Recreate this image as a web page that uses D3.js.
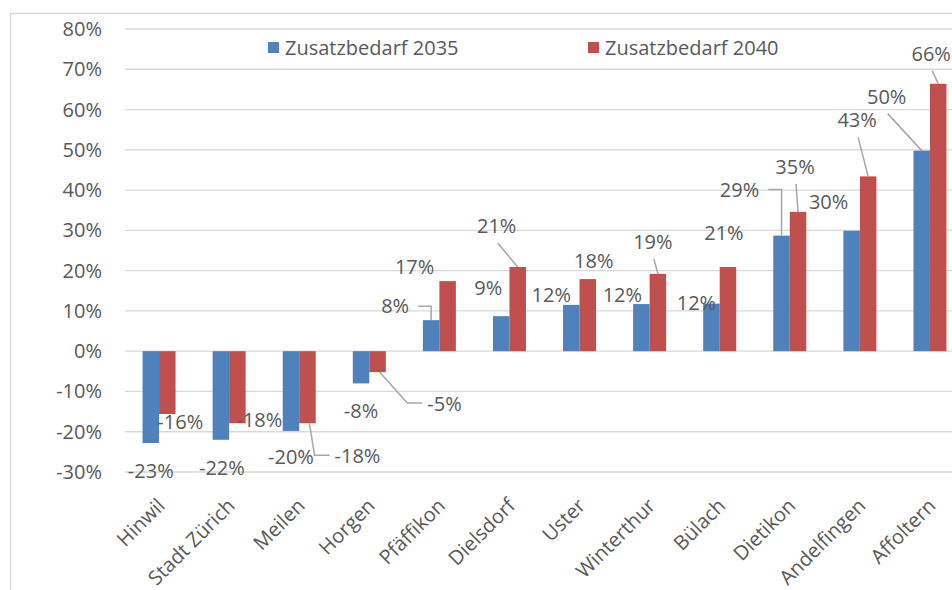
<!DOCTYPE html>
<html>
<head>
<meta charset="utf-8">
<script src="https://cdn.jsdelivr.net/npm/d3@7"></script>
<style>
  body { margin: 0; background: #fff; }
  svg { display: block; font-family: "Open Sans", sans-serif; }
  .grid line { stroke: #d9d9d9; stroke-width: 1.3; }
  .tick-label, .cat-label, .legend text, .value-label { fill: #595959; font-size: 20px; }
  .leader { fill: none; stroke: #a6a6a6; stroke-width: 1.5; }
</style>
</head>
<body>
<div id="chart"></div>
<script>
(function(){
  // data (percent)
  const categories = ["Hinwil", "Stadt Zürich", "Meilen", "Horgen", "Pfäffikon", "Dielsdorf",
                      "Uster", "Winterthur", "Bülach", "Dietikon", "Andelfingen", "Affoltern"];
  const series = ["Zusatzbedarf 2035", "Zusatzbedarf 2040"];
  const values2035 = [-22.8, -22.0, -19.8, -8.0, 7.7, 8.7, 11.5, 11.7, 11.8, 28.7, 29.9, 49.8];
  const values2040 = [-15.6, -17.9, -17.9, -5.2, 17.4, 20.9, 17.9, 19.2, 20.9, 34.6, 43.4, 66.4];
  const yTicks = [-30, -20, -10, 0, 10, 20, 30, 40, 50, 60, 70, 80];
  const colors = ["#4f81bd", "#c0504d"];

  // hand-placed data label offsets (px from bar end) and leader style
  const labelOffsets2035 = [[0, 28], [1, 28], [0, 26], [0, 28], [-36, -14, "elbowRight"], [-13, -28],
                            [-20, -10], [-19, -9], [-15, -1], [-42, -46, "elbowRight"], [-23, -29], [-35, -54, "down"]];
  const labelOffsets2040 = [[13, 8], [22, -3], [50, 33, "elbowLeft"], [67, 32, "elbowLeft"], [-33, -14], [-21, -41, "down"],
                            [6, -18], [-5, -32, "down"], [-4, -34], [-3, -45, "down"], [-11, -56, "down"], [-7, -30, "down"]];

  const width = 952, height = 590;
  const barW = 16.5;

  const svg = d3.select("#chart").append("svg")
    .attr("width", width)
    .attr("height", height);

  // chart frame (cropped on the right and bottom)
  svg.append("path")
    .attr("d", "M10.5,595 V13.5 H960")
    .attr("fill", "none")
    .attr("stroke", "#d9d9d9")
    .attr("stroke-width", 1.3);

  const x0 = d3.scaleBand().domain(categories).range([124, 965]);
  const x1 = d3.scaleBand().domain(series)
    .range([x0.bandwidth() / 2 - barW, x0.bandwidth() / 2 + barW]);
  const y = d3.scaleLinear().domain([-30, 80]).range([472, 29]);

  // gridlines
  svg.append("g").attr("class", "grid")
    .selectAll("line")
    .data(yTicks)
    .enter().append("line")
    .attr("x1", 125).attr("x2", width)
    .attr("y1", d => y(d)).attr("y2", d => y(d));

  // y tick labels
  svg.append("g")
    .selectAll("text")
    .data(yTicks)
    .enter().append("text")
    .attr("class", "tick-label")
    .attr("x", 102)
    .attr("y", d => y(d))
    .attr("dy", "0.35em")
    .attr("text-anchor", "end")
    .text(d => d + "%");

  const rows = [];
  [values2035, values2040].forEach((vals, s) => {
    const offs = s === 0 ? labelOffsets2035 : labelOffsets2040;
    vals.forEach((v, i) => rows.push({ cat: categories[i], s: s, v: v, off: offs[i] }));
  });

  // bars
  svg.append("g")
    .selectAll("rect")
    .data(rows)
    .enter().append("rect")
    .attr("x", d => x0(d.cat) + x1(series[d.s]))
    .attr("width", x1.bandwidth())
    .attr("y", d => y(Math.max(0, d.v)))
    .attr("height", d => Math.abs(y(d.v) - y(0)))
    .attr("fill", d => colors[d.s]);

  // data labels with leader lines
  const leaders = svg.append("g");
  const labels = svg.append("g");
  rows.forEach(d => {
    const bx = x0(d.cat) + x1(series[d.s]) + x1.bandwidth() / 2;
    const by = y(d.v);
    const cx = bx + d.off[0], cy = by + d.off[1];
    const t = labels.append("text")
      .attr("class", "value-label")
      .attr("x", cx).attr("y", cy)
      .attr("dy", "0.35em")
      .attr("text-anchor", "middle")
      .text(Math.round(d.v) + "%");
    const w = t.node().getComputedTextLength();
    let pts = null;
    if (d.off[2] === "down") {
      pts = [[cx + 1, cy + 17], [bx, by]];
    } else if (d.off[2] === "elbowRight") {
      pts = [[cx + w / 2 + 9, cy], [bx, cy], [bx, by]];
    } else if (d.off[2] === "elbowLeft") {
      const left = cx - w / 2;
      pts = [[bx + 2, by], [left - 20, cy - 1], [left - 5, cy - 1]];
    }
    if (pts) {
      leaders.append("path")
        .attr("class", "leader")
        .attr("d", d3.line()(pts));
    }
  });

  // category labels
  svg.append("g")
    .selectAll("text")
    .data(categories)
    .enter().append("text")
    .attr("class", "cat-label")
    .attr("text-anchor", "end")
    .attr("transform", d => `translate(${x0(d) + x0.bandwidth() / 2 + 7},507) rotate(-45)`)
    .text(d => d);

  // legend
  const legend = svg.append("g").attr("class", "legend")
    .selectAll("g")
    .data(series)
    .enter().append("g")
    .attr("transform", (d, i) => `translate(${268 + i * 320},42)`);
  legend.append("rect")
    .attr("width", 11).attr("height", 11)
    .attr("fill", (d, i) => colors[i]);
  legend.append("text")
    .attr("x", 17).attr("y", 5.5)
    .attr("dy", "0.35em")
    .text(d => d);
})();
</script>
</body>
</html>
